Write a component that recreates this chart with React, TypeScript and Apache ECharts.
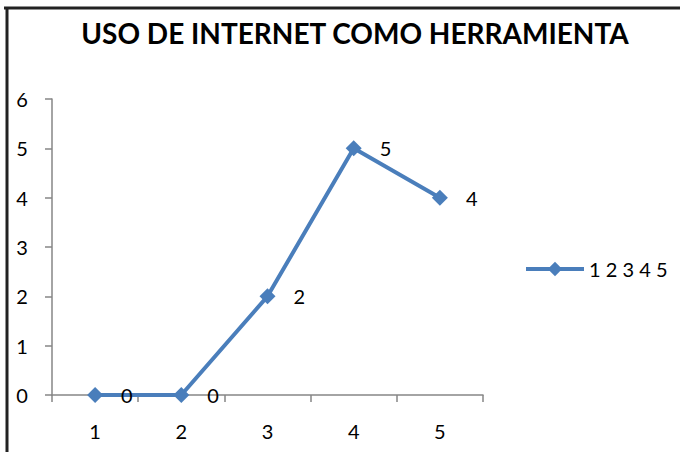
import React, { useEffect, useRef } from "react";
import * as echarts from "echarts";

const categories = ["1", "2", "3", "4", "5"];
const values = [0, 0, 2, 5, 4];
const seriesName = "1 2 3 4 5";
const titleText = "USO DE INTERNET COMO HERRAMIENTA";

export default function App() {
  const ref = useRef<HTMLDivElement>(null);
  useEffect(() => {
    if (!ref.current) return;
    const chart = echarts.init(ref.current, null, { renderer: "svg" });
    const blue = "#4A7EBB";
    chart.setOption({
      animation: false,
      backgroundColor: "#fff",
      title: {
        text: titleText,
        left: 350,
        textAlign: "center",
        top: 14,
        textStyle: { fontFamily: "Lato", fontWeight: "bold", fontSize: 28, color: "#000" },
      },
      legend: {
        orient: "vertical",
        left: 519,
        top: 254,
        itemWidth: 58,
        itemHeight: 18,
        itemGap: 4,
        lineStyle: { width: 4 },
        textStyle: { fontFamily: "Lato", fontSize: 20, color: "#000" },
        data: [{ name: seriesName }],
      },
      grid: { left: 52, right: 197, top: 99, bottom: 57 },
      xAxis: {
        type: "category",
        data: categories,
        boundaryGap: true,
        axisLine: { lineStyle: { color: "#868686", width: 1.5 } },
        axisTick: { show: true, length: 7, lineStyle: { color: "#868686", width: 1.5 } },
        axisLabel: { fontFamily: "Lato", fontSize: 20, color: "#000", margin: 26 },
        splitLine: { show: false },
      },
      yAxis: {
        type: "value",
        min: 0,
        max: 6,
        interval: 1,
        axisLine: { show: true, lineStyle: { color: "#868686", width: 1.5 } },
        axisTick: { show: true, length: 7, lineStyle: { color: "#868686", width: 1.5 } },
        axisLabel: { fontFamily: "Lato", fontSize: 20, color: "#000", margin: 30, align: "center" },
        splitLine: { show: false },
      },
      series: [
        {
          name: seriesName,
          type: "line",
          data: values,
          symbol: "diamond",
          symbolSize: 16,
          lineStyle: { color: blue, width: 4 },
          itemStyle: { color: blue },
          label: {
            show: true,
            position: "right",
            distance: 18,
            fontFamily: "Lato",
            fontSize: 20,
            color: "#000",
          },
        },
      ],
      graphic: [
        { type: "line", shape: { x1: 4, y1: 8, x2: 680, y2: 8 }, style: { stroke: "#222", lineWidth: 3 } },
        { type: "line", shape: { x1: 7, y1: 7, x2: 7, y2: 452 }, style: { stroke: "#222", lineWidth: 3 } },
      ],
    });
    return () => chart.dispose();
  }, []);
  return (
    <div
      ref={ref}
      style={{ position: "absolute", left: 0, top: 0, width: 680, height: 452 }}
    />
  );
}
